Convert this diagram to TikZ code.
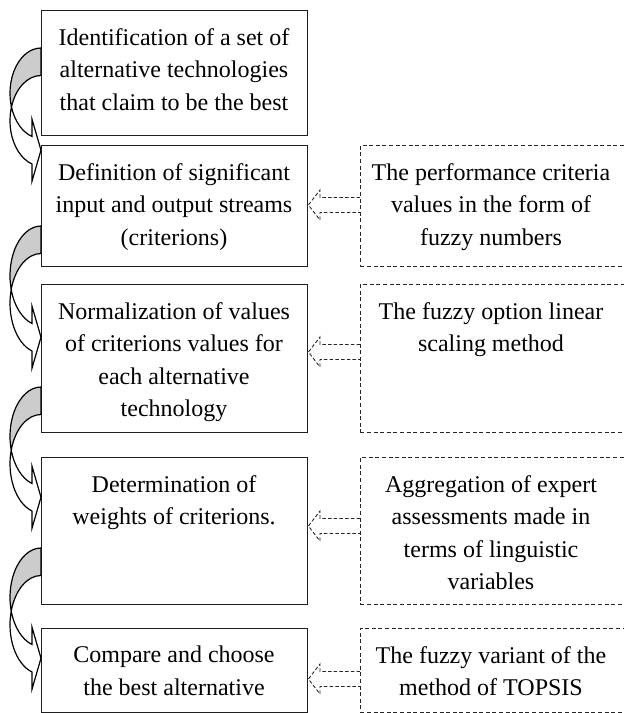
\documentclass[tikz,border=0pt]{standalone}
\usepackage{fontspec}
\setmainfont{Liberation Serif}
\usetikzlibrary{calc}
\newcommand\cvarrow[2]{% #1 = top y of band, #2 = vertical radius
  \pgfmathsetmacro\cvc{#1+#2}%
  \pgfmathsetmacro\cvd{#1+#2+27.5}%
  \pgfmathsetmacro\cval{asin(13.75/#2)}%
  \pgfmathsetmacro\cvsa{180-\cval}%
  \pgfmathsetmacro\cvsb{180+\cval}%
  \pgfmathsetmacro\cvna{\cvc+#2*sin(106.9)}%
  \pgfmathsetmacro\cvnb{\cvd+#2*sin(106.9)}%
  \pgfmathsetmacro\cvm{(\cvna+\cvnb)/2}%
  \filldraw[cvback] (41,#1) arc[start angle=270, end angle=\cvsa, x radius=31, y radius=#2]
     coordinate (cvI) arc[start angle=\cvsb, end angle=270, x radius=31, y radius=#2] -- cycle;
  \filldraw[cvfront] (cvI) arc[start angle=\cvsa, end angle=106.9, x radius=31, y radius=#2]
     -- (32,{\cvm-31}) -- (41,\cvm) -- (32,{\cvm+31}) -- (32,\cvnb)
     arc[start angle=106.9, end angle=\cvsb, x radius=31, y radius=#2] -- cycle;
}
\begin{document}
\begin{tikzpicture}[x=1pt,y=-1pt,
  lbox/.style={draw=black!88, line width=1.4pt, minimum width=266pt, anchor=north west, inner sep=0pt},
  rbox/.style={draw=black!85, line width=0.9pt, dash pattern=on 4pt off 2.6pt, minimum width=266pt, anchor=north west, inner sep=0pt},
  txt/.style={anchor=north, align=center, inner sep=0pt, font=\fontsize{24}{32.5}\selectfont, text=black},
  cvback/.style={fill=black!20, draw=black, line width=1.2pt, line join=round},
  cvfront/.style={fill=white, draw=black, line width=1.2pt, line join=miter},
  darr/.style={draw=black!85, line width=0.9pt, dash pattern=on 3.5pt off 2.2pt}
]
\useasboundingbox (0,0) rectangle (624,713);
% left boxes
\node[lbox, minimum height=125pt] (l1) at (41,10) {};
\node[lbox, minimum height=121pt] (l2) at (41,145) {};
\node[lbox, minimum height=148pt] (l3) at (41,284) {};
\node[lbox, minimum height=147pt] (l4) at (41,457) {};
\node[lbox, minimum height=84pt] (l5) at (41,628) {};
% right boxes
\node[rbox, minimum height=121pt] (r1) at (360,145) {};
\node[rbox, minimum height=148pt] (r2) at (360,284) {};
\node[rbox, minimum height=147pt] (r3) at (360,457) {};
\node[rbox, minimum height=84pt] (r4) at (360,628) {};
% texts
\node[txt] (tl1) at (174,28) {Identification of a set of\\alternative technologies\\that claim to be the best};
\node[txt] (tl2) at (174,163) {Definition of significant\\input and output streams\\(criterions)};
\node[txt] (tl3) at (174,302) {Normalization of values\\of criterions values for\\each alternative\\technology};
\node[txt] (tl4) at (174,475) {Determination of\\weights of criterions.};
\node[txt] (tl5) at (174,646) {Compare and choose\\the best alternative};
\node[txt] (tr1) at (491,163) {The performance criteria\\values in the form of\\fuzzy numbers};
\node[txt] (tr2) at (491,302) {The fuzzy option linear\\scaling method};
\node[txt] (tr3) at (491,475) {Aggregation of expert\\assessments made in\\terms of linguistic\\variables};
\node[txt] (tr4) at (491,646) {The fuzzy variant of the\\method of TOPSIS};
% dashed hollow arrows
\foreach \yc/\r/\l in {205/r1/l1, 352/r2/l3, 526/r3/l4, 679/r4/l5}{
  \draw[darr] (\r.west |- 0,{\yc-7.5}) -- (320,{\yc-7.5}) -- (320,{\yc-15}) -- (l2.east |- 0,\yc)
     -- (320,{\yc+15}) -- (320,{\yc+7.5}) -- (\r.west |- 0,{\yc+7.5});
}
% curved arrows
\cvarrow{48}{45.2}
\cvarrow{226}{49.8}
\cvarrow{387}{49.3}
\cvarrow{548}{49.3}
\end{tikzpicture}
\end{document}
